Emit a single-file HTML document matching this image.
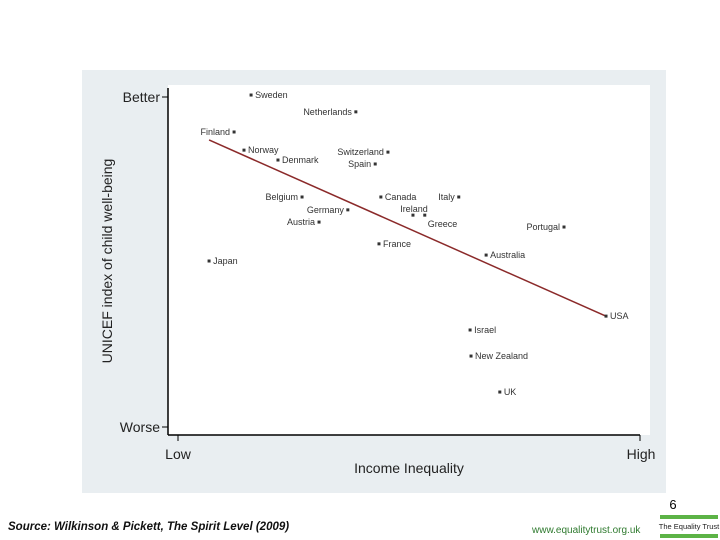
<!DOCTYPE html>
<html><head><meta charset="utf-8"><style>
body{margin:0;width:720px;height:540px;background:#fff;overflow:hidden;font-family:"Liberation Sans",sans-serif;position:relative}
</style></head><body>
<svg width="720" height="540" style="position:absolute;left:0;top:0">
<rect x="82" y="70" width="584" height="423" fill="#e9eef1"/>
<rect x="168" y="85" width="482" height="350" fill="#fff"/>
<line x1="168" y1="88" x2="168" y2="435" stroke="#000" stroke-width="1.5"/>
<line x1="168" y1="435" x2="640" y2="435" stroke="#000" stroke-width="1.5"/>
<line x1="162" y1="97" x2="168" y2="97" stroke="#000"/>
<line x1="162" y1="427" x2="168" y2="427" stroke="#000"/>
<line x1="640" y1="435" x2="640" y2="441" stroke="#000"/>
<line x1="178" y1="435" x2="178" y2="441" stroke="#000"/>
<text x="160" y="102" text-anchor="end" font-size="14" fill="#222">Better</text>
<text x="160" y="432" text-anchor="end" font-size="14" fill="#222">Worse</text>
<text x="178" y="459" text-anchor="middle" font-size="14" fill="#222">Low</text>
<text x="641" y="459" text-anchor="middle" font-size="14" fill="#222">High</text>
<text x="409" y="473" text-anchor="middle" font-size="14" fill="#222">Income Inequality</text>
<text transform="translate(112,261) rotate(-90)" text-anchor="middle" font-size="14" fill="#222">UNICEF index of child well-being</text>
<g id="marks"></g>
<text x="673" y="509" text-anchor="middle" font-size="13" fill="#000">6</text>
<text x="8" y="530" font-size="11.5" font-style="italic" font-weight="bold" fill="#111">Source: Wilkinson &amp; Pickett, The Spirit Level (2009)</text>
<text x="532" y="533" font-size="10" fill="#2f7a2f">www.equalitytrust.org.uk</text>
<rect x="660" y="515" width="58" height="4" fill="#5cb346"/>
<text x="689" y="529" text-anchor="middle" font-size="7.5" fill="#222">The Equality Trust</text>
<rect x="660" y="534" width="58" height="4" fill="#5cb346"/>
</svg>
<script>
const countries=["Sweden","Netherlands","Finland","Norway","Denmark","Switzerland","Spain","Belgium","Germany","Austria","Canada","Ireland","Greece","Italy","Portugal","France","Australia","Japan","USA","Israel","New Zealand","UK"];
const inequality=[17.6,39.8,14.0,16.1,23.3,46.6,43.9,28.4,38.1,32.0,45.1,51.9,54.4,61.6,83.9,44.7,67.4,8.7,92.8,64.0,64.2,70.3];
const wellbeing=[100.6,95.5,89.4,83.9,80.9,83.3,79.7,69.7,65.8,62.1,69.7,64.2,64.2,69.7,60.6,55.5,52.1,50.3,33.6,29.4,21.5,10.6];
const labelSide=["r","l","l","r","r","l","l","l","l","l","r","t","b","l","l","r","r","r","r","r","r","r"];
const trendIntercept=92.5, trendSlope=-0.635, trendRange=[8.7,92.8];
const xs=v=>168+v/100*472, ys=v=>427-v/100*330;
const NS="http://www.w3.org/2000/svg", g=document.getElementById('marks');
const tl=document.createElementNS(NS,'line');
tl.setAttribute('x1',xs(trendRange[0]));tl.setAttribute('y1',ys(trendIntercept+trendSlope*trendRange[0]));
tl.setAttribute('x2',xs(trendRange[1]));tl.setAttribute('y2',ys(trendIntercept+trendSlope*trendRange[1]));
tl.setAttribute('stroke','#8b2a2a');tl.setAttribute('stroke-width','1.5');


g.appendChild(tl);
countries.forEach((c,i)=>{
  const x=xs(inequality[i]), y=ys(wellbeing[i]);
  const d=document.createElementNS(NS,'rect');
  d.setAttribute('x',x-1.5);d.setAttribute('y',y-1.5);d.setAttribute('width',3);d.setAttribute('height',3);d.setAttribute('fill','#333');
  
  
  g.appendChild(d);
  const t=document.createElementNS(NS,'text');
  const s=labelSide[i];
  let tx=x+4,ty=y+3,a='start';
  if(s==='l'){tx=x-4;a='end';}
  if(s==='t'){tx=x+1;ty=y-3;a='middle';}
  if(s==='b'){tx=x+3;ty=y+12;}
  t.setAttribute('x',tx);t.setAttribute('y',ty);t.setAttribute('text-anchor',a);
  t.setAttribute('font-size','9');t.setAttribute('fill','#333');
  t.textContent=c;
  
  
  g.appendChild(t);
});
</script>
</body></html>
